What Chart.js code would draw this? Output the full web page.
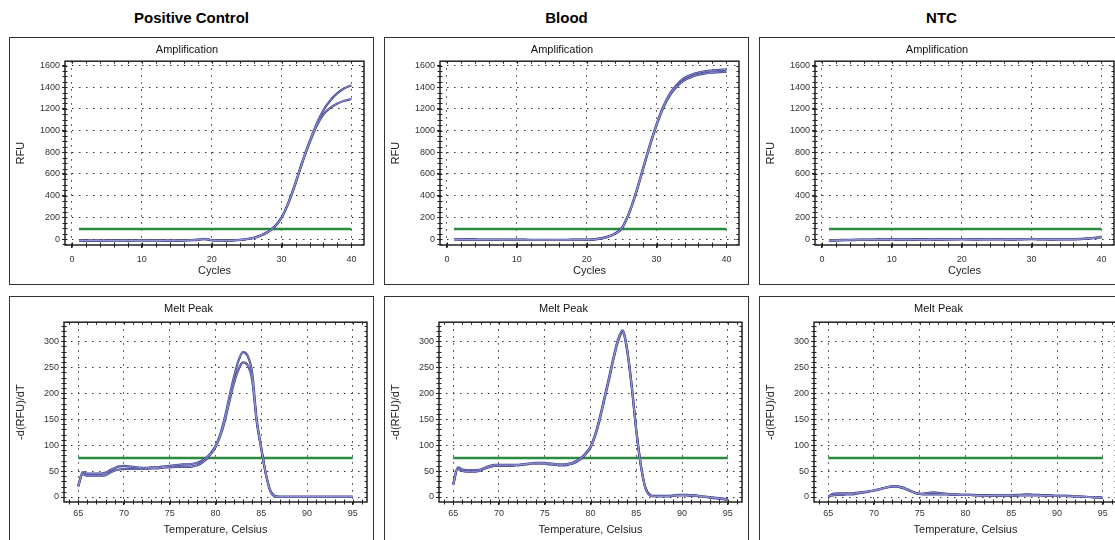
<!DOCTYPE html>
<html>
<head>
<meta charset="utf-8">
<script src="https://cdn.jsdelivr.net/npm/chart.js@4.4.1/dist/chart.umd.min.js"></script>
<style>
  body { margin: 0; background: #fff; width: 1115px; height: 540px; overflow: hidden; position: relative;
         font-family: "Liberation Sans", Arial, Helvetica, sans-serif; }
  .heading { position: absolute; top: 9px; width: 365px; text-align: center; font-weight: bold; font-size: 15px; color: #000; }
  .panel { position: absolute; width: 365px; border: 1px solid #333; box-sizing: border-box; background: #fff; }
  .panel canvas { position: absolute; left: 0; top: 0; }
</style>
</head>
<body>
<script>
// Amplification data (RFU per cycle)
const ampCycles = [1,2,3,4,5,6,7,8,9,10,11,12,13,14,15,16,17,18,19,20,21,22,23,24,25,26,27,28,29,30,31,32,33,34,35,36,37,38,39,40];
const posAmpA = [-12,-13,-14,-14,-13,-13,-12,-13,-12,-11,-12,-12,-13,-14,-14,-12,-10,-6,2,-10,-12,-13,-12,-8,
                 0,12,32,65,115,200,340,520,720,900,1060,1190,1280,1345,1390,1418];
const posAmpB = [-14,-14,-15,-15,-14,-13,-13,-14,-13,-12,-13,-13,-14,-15,-15,-13,-11,-8,0,-11,-13,-14,-13,-9,
                 -2,10,30,62,112,196,334,512,710,885,1040,1150,1210,1250,1275,1291];
const bloodAmpA = [-2,-3,-4,-4,-5,-5,-5,-6,-6,-6,-6,-7,-7,-7,-7,-7,-7,-6,-6,-5,
                   -3,6,22,50,100,232,420,640,860,1060,1230,1350,1430,1485,1515,1535,1548,1555,1560,1563];
const bloodAmpB = [-4,-5,-6,-6,-7,-7,-7,-8,-8,-8,-8,-9,-9,-9,-9,-9,-9,-8,-8,-7,
                   -5,4,19,46,95,225,410,628,848,1048,1215,1335,1412,1465,1495,1515,1528,1535,1540,1542];
const ntcAmpA = [-18,-14,-12,-10,-9,-8,-7,-6,-5,-4,-5,-6,-5,-4,-4,-5,-5,-4,-3,-2,
                 -3,-4,-4,-3,-3,-4,-5,-4,-2,0,-3,-4,-5,-4,-4,-3,-1,3,8,15];
const ntcAmpB = [-10,-9,-8,-7,-6,-5,-5,-4,-3,-2,-3,-3,-4,-3,-3,-3,-4,-3,-2,-1,
                 -2,-3,-2,-2,-1,-2,-3,-2,-1,1,-1,-2,-3,-2,-2,-1,1,6,12,22];
const ampThreshold = 92;

// Melt peak data (-d(RFU)/dT per temperature)
const meltTemps = [65,65.5,66,66.5,67,67.5,68,68.5,69,69.5,70,70.5,71,71.5,72,72.5,73,73.5,74,74.5,75,
                   75.5,76,76.5,77,77.5,78,78.5,79,79.5,80,80.5,81,81.5,82,82.5,83,83.5,84,84.5,85,
                   85.5,86,86.5,87,87.5,88,88.5,89,89.5,90,90.5,91,91.5,92,92.5,93,93.5,94,94.5,95];
const posMeltA = [22,48,45,45,45,45,47,52,56,59,60, 59,58,57,56,56,57,57,58,59,60,
                  61,62,63,63,64,66,70,76,85,98, 120,152,192,230,262,279,272,240,150,95,
                  45,12,2,1,1,1,1,1,1,1,1,1,1,1,1,1,1,1,1,1];
const posMeltB = [20,44,41,41,41,41,42,47,51,53,54, 54,54,54,54,54,55,55,56,57,57,
                  58,58,58,58,59,61,66,73,83,96, 116,145,182,218,245,259,254,225,145,92,
                  44,11,1,0,0,0,0,0,0,0,0,0,0,0,0,0,0,0,0,0];
const bloodMeltA = [25,57,53,52,52,52,53,57,60,62,62, 62,62,62,62,63,64,65,66,66,66,
                    65,64,63,63,64,66,70,76,85,97, 120,152,190,228,268,303,321,285,215,130,
                    62,18,4,2,2,2,2,3,4,4,4,3,3,2,1,0,-1,-2,-3,-5];
const bloodMeltB = [23,54,50,49,49,49,51,55,58,60,60, 60,60,60,61,62,63,64,64,64,64,
                    63,62,61,61,62,64,68,74,83,95, 117,148,186,224,264,299,317,282,212,127,
                    60,17,3,1,1,1,1,2,3,3,3,2,2,1,0,-1,-2,-3,-4,-6];
const ntcMeltA = [0,6,7,7,7,7,8,9,10,11,12, 14,17,19,21,21,19,16,12,8,6,
                  5,5,5,5,5,5,4,4,4,4, 4,3,3,3,3,2,2,2,2,2,
                  2,3,3,3,3,3,3,3,3,2,2,2,2,1,1,1,0,0,0,-1];
const ntcMeltB = [2,3,4,4,5,5,6,8,9,11,13, 15,17,19,20,20,18,15,11,8,6,
                  7,8,9,8,7,6,5,5,4,4, 4,4,3,3,3,3,3,3,3,3,
                  4,4,5,5,4,4,3,3,2,2,2,2,1,1,1,0,0,-1,-1,-2];
const meltThreshold = 75;

// Tick labels
const ampXTicks = [0, 10, 20, 30, 40];
const ampYTicks = [0, 200, 400, 600, 800, 1000, 1200, 1400, 1600];
const meltXTicks = [65, 70, 75, 80, 85, 90, 95];
const meltYTicks = [0, 50, 100, 150, 200, 250, 300];

const columnTitles = ['Positive Control', 'Blood', 'NTC'];
const ampSeries = [[posAmpA, posAmpB], [bloodAmpA, bloodAmpB], [ntcAmpA, ntcAmpB]];
const meltSeries = [[posMeltA, posMeltB], [bloodMeltA, bloodMeltB], [ntcMeltA, ntcMeltB]];

const fontFamily = '"Liberation Sans", Arial, Helvetica, sans-serif';
Chart.defaults.font.family = fontFamily;

// Layout of each row of panels
const rows = [
    { top: 37, boxH: 248, canvasH: 246, area: { left: 55, right: 354, top: 23, bottom: 207 },
      title: 'Amplification', titlePad: { top: 5, bottom: 5 },
      xTitle: 'Cycles', yTitle: 'RFU', xTitlePad: 6.7, xTickPad: 6,
      xMin: -1, xMax: 41.8, yMin: -55, yMax: 1640, minorX: 2, minorY: 50,
      xs: ampCycles, xTicks: ampXTicks, yTicks: ampYTicks, threshold: ampThreshold, series: ampSeries },
    { top: 296, boxH: 256, canvasH: 250, area: { left: 54, right: 357, top: 25, bottom: 205 },
      title: 'Melt Peak', titlePad: { top: 5, bottom: 7 },
      xTitle: 'Temperature, Celsius', yTitle: '-d(RFU)/dT', xTitlePad: 10.4, xTickPad: 3,
      xMin: 63.45, xMax: 96.55, yMin: -9.6, yMax: 336.5, minorX: 1, minorY: 10,
      xs: meltTemps, xTicks: meltXTicks, yTicks: meltYTicks, threshold: meltThreshold, series: meltSeries }
];

// Plot frame and small minor ticks on all four sides
const framePlugin = {
    id: 'frame',
    afterDraw(chart, args, opts) {
        const { ctx, chartArea: a, scales: { x, y } } = chart;
        ctx.save();
        ctx.strokeStyle = '#222';
        ctx.lineWidth = 1;
        ctx.beginPath();
        for (let v = Math.ceil(x.min / opts.minorX) * opts.minorX; v <= x.max; v += opts.minorX) {
            const px = Math.round(x.getPixelForValue(v)) + 0.5;
            ctx.moveTo(px, a.bottom - 2.5); ctx.lineTo(px, a.bottom + 2.5);
            ctx.moveTo(px, a.top); ctx.lineTo(px, a.top + 2.5);
        }
        for (let v = Math.ceil(y.min / opts.minorY) * opts.minorY; v <= y.max; v += opts.minorY) {
            const py = Math.round(y.getPixelForValue(v)) + 0.5;
            ctx.moveTo(a.left - 2.5, py); ctx.lineTo(a.left + 2.5, py);
            ctx.moveTo(a.right, py); ctx.lineTo(a.right - 2.5, py);
        }
        ctx.stroke();
        ctx.lineWidth = 1.5;
        ctx.strokeRect(a.left, a.top, a.right - a.left, a.bottom - a.top);
        ctx.restore();
    }
};

function buildDatasets(row, list) {
    const sets = [];
    list.forEach(s => {
        const pts = row.xs.map((x, i) => ({ x: x, y: s[i] }));
        sets.push({ data: pts, borderColor: '#3c3e8e', borderWidth: 2.2, order: 1 });
        sets.push({ data: pts, borderColor: '#9ea0d6', borderWidth: 0.8, order: 0 });
    });
    sets.push({
        data: [{ x: row.xs[0], y: row.threshold }, { x: row.xs[row.xs.length - 1], y: row.threshold }],
        borderColor: '#2b8a3e', borderWidth: 2.6, order: 2
    });
    sets.forEach(d => { d.pointRadius = 0; d.cubicInterpolationMode = 'monotone'; d.fill = false; });
    return sets;
}

columnTitles.forEach((t, col) => {
    const h = document.createElement('div');
    h.className = 'heading';
    h.style.left = (9 + col * 375) + 'px';
    h.textContent = t;
    document.body.appendChild(h);
});

rows.forEach(row => {
    row.series.forEach((list, col) => {
        const box = document.createElement('div');
        box.className = 'panel';
        box.style.left = (9 + col * 375) + 'px';
        box.style.top = row.top + 'px';
        box.style.height = row.boxH + 'px';
        const canvas = document.createElement('canvas');
        canvas.width = 363;
        canvas.height = row.canvasH;
        box.appendChild(canvas);
        document.body.appendChild(box);

        new Chart(canvas.getContext('2d'), {
            type: 'line',
            data: { datasets: buildDatasets(row, list) },
            plugins: [framePlugin],
            options: {
                responsive: false,
                animation: false,
                devicePixelRatio: 1,
                layout: { padding: { left: 0, top: 0, bottom: 0, right: 363 - row.area.right } },
                plugins: {
                    legend: { display: false },
                    tooltip: { enabled: false },
                    title: { display: true, text: row.title, color: '#111',
                             font: { size: 11, weight: 'normal' }, padding: row.titlePad },
                    frame: { minorX: row.minorX, minorY: row.minorY }
                },
                scales: {
                    x: {
                        type: 'linear', min: row.xMin, max: row.xMax,
                        afterBuildTicks: s => { s.ticks = row.xTicks.map(v => ({ value: v })); },
                        afterFit: s => { s.height = row.canvasH - row.area.bottom; },
                        ticks: { font: { size: 9 }, color: '#333', padding: row.xTickPad, maxRotation: 0,
                                 autoSkip: false, callback: v => String(v) },
                        grid: { color: '#333', lineWidth: 1, tickLength: 3, tickColor: '#222' },
                        border: { display: false, dash: [1.5, 5.5] },
                        title: { display: true, text: row.xTitle, color: '#222', font: { size: 11 },
                                 padding: { top: 0, bottom: row.xTitlePad } }
                    },
                    y: {
                        type: 'linear', min: row.yMin, max: row.yMax,
                        afterBuildTicks: s => { s.ticks = row.yTicks.map(v => ({ value: v })); },
                        afterFit: s => { s.width = row.area.left; },
                        ticks: { font: { size: 9 }, color: '#333', padding: 2, autoSkip: false,
                                 callback: v => String(v) },
                        grid: { color: '#333', lineWidth: 1, tickLength: 3, tickColor: '#222' },
                        border: { display: false, dash: [1.5, 5.5] },
                        title: { display: true, text: row.yTitle, color: '#222', font: { size: 11 },
                                 padding: { top: 4.4, bottom: 0 } }
                    }
                }
            }
        });
    });
});
</script>
</body>
</html>
